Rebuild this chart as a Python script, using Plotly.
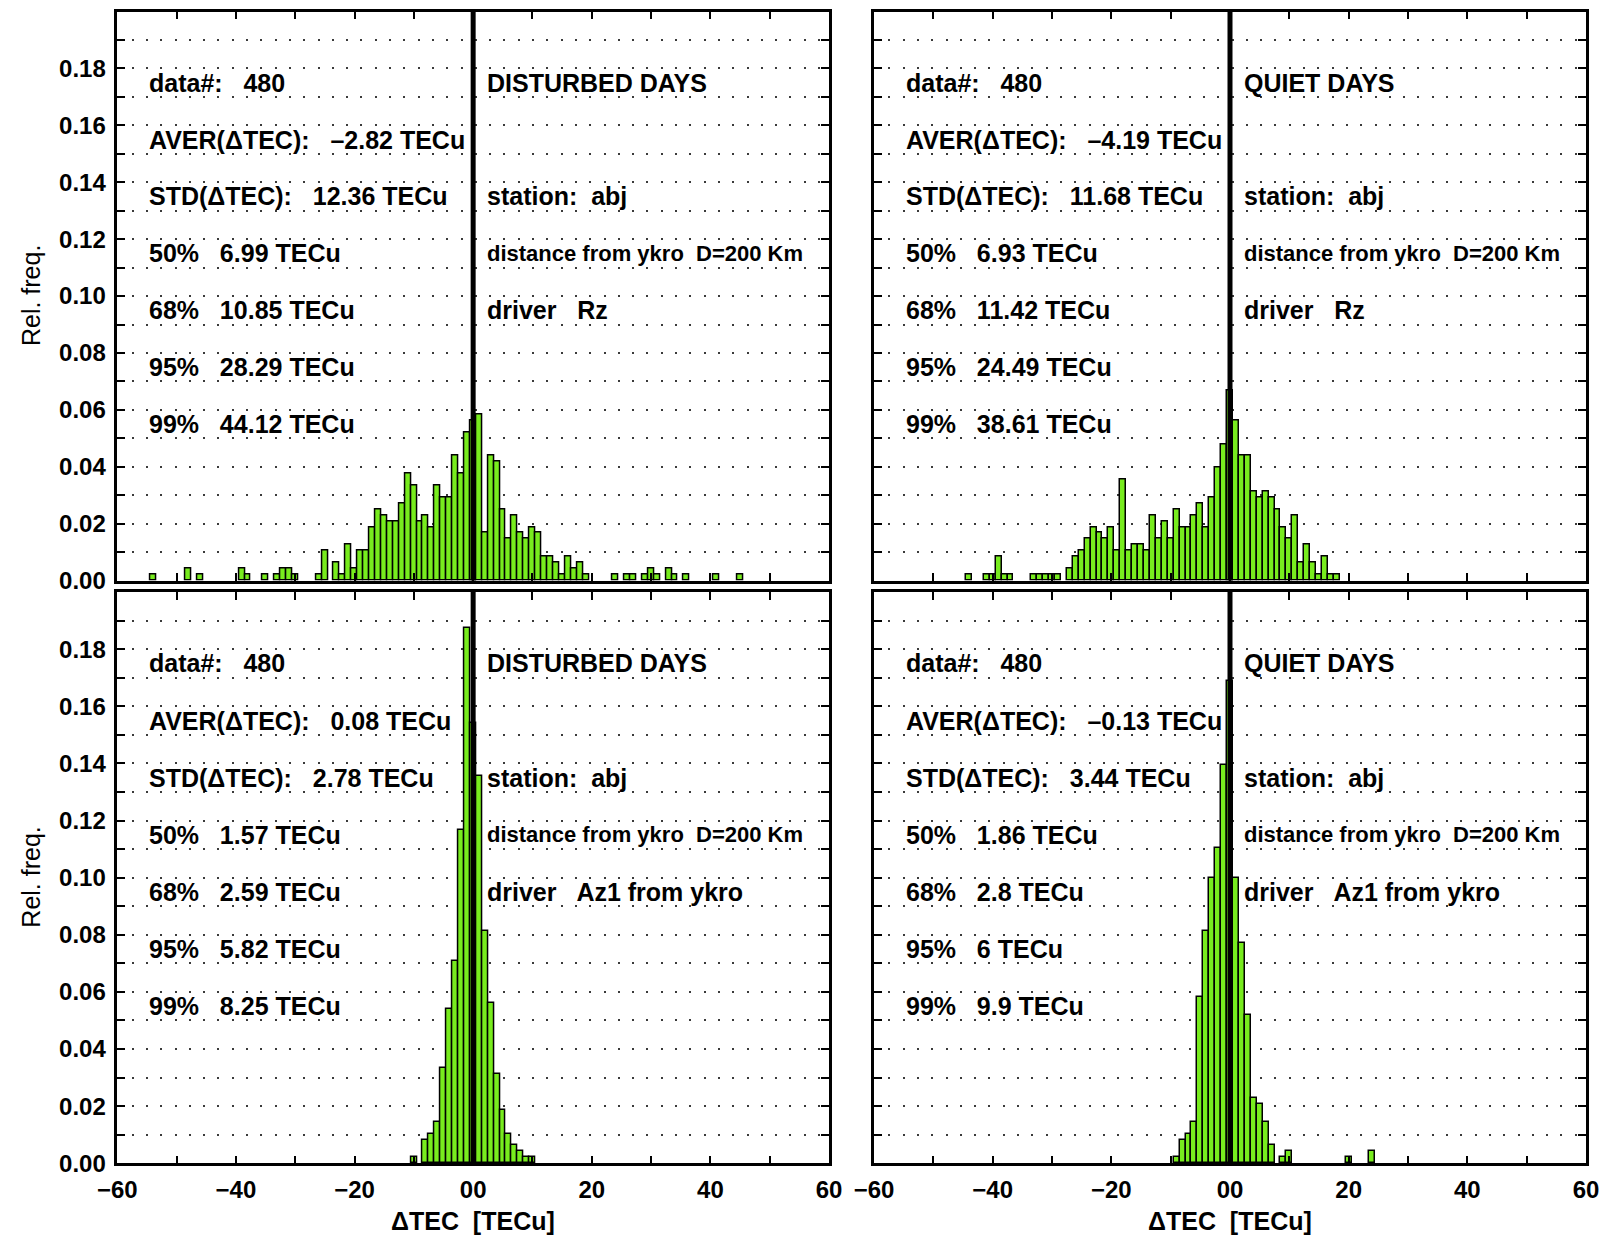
import plotly.graph_objects as go

# Number of ΔTEC samples per run (relative frequency = count / N_DATA)
N_DATA = 480

# Disturbed days, driver Rz: bin centres [TECu] and counts per 1-TECu bin
bins_dist_rz = [-54, -48, -46, -39, -38, -35, -33, -32, -31, -30,
                -26, -25, -23, -22, -21, -20, -19, -18, -17, -16, -15, -14, -13,
                -12, -11, -10, -9, -8, -7, -6, -5, -4, -3, -2, -1, 0,
                1, 2, 3, 4, 5, 6, 7, 8, 9, 10, 11, 12, 13, 14, 15, 16, 17, 18, 19,
                24, 26, 27, 29, 30, 31, 33, 34, 36, 41, 45]
counts_dist_rz = [1, 2, 1, 2, 1, 1, 1, 2, 2, 1,
                  1, 5, 3, 1, 6, 2, 5, 5, 9, 12, 11, 10, 10,
                  13, 18, 16, 10, 11, 9, 16, 14, 14, 21, 18, 25, 27,
                  28, 8, 21, 20, 12, 7, 11, 8, 7, 9, 8, 4, 4, 3, 1, 4, 2, 3, 1,
                  1, 1, 1, 1, 2, 1, 2, 1, 1, 1, 1]

# Quiet days, driver Rz
bins_quiet_rz = [-44, -41, -40, -39, -38, -37, -33, -32, -31, -30, -29,
                 -27, -26, -25, -24, -23, -22, -21, -20, -19, -18, -17, -16, -15, -14,
                 -13, -12, -11, -10, -9, -8, -7, -6, -5, -4, -3, -2, -1, 0,
                 1, 2, 3, 4, 5, 6, 7, 8, 9, 10, 11, 12, 13, 14, 15, 16, 17, 18]
counts_quiet_rz = [1, 1, 1, 4, 1, 1, 1, 1, 1, 1, 1,
                   2, 4, 5, 7, 9, 8, 7, 9, 5, 17, 5, 6, 6, 5,
                   11, 7, 10, 7, 12, 9, 9, 11, 13, 9, 14, 19, 23, 32,
                   27, 21, 21, 15, 14, 15, 14, 12, 9, 7, 11, 3, 6, 3, 1, 4, 1, 1]

# Disturbed days, driver Az1 from ykro
bins_dist_az1 = [-10, -8, -7, -6, -5, -4, -3, -2, -1, 0,
                 1, 2, 3, 4, 5, 6, 7, 8, 9, 10]
counts_dist_az1 = [1, 4, 5, 7, 16, 26, 34, 56, 90, 74,
                   65, 39, 27, 15, 9, 5, 3, 2, 1, 1]

# Quiet days, driver Az1 from ykro
bins_quiet_az1 = [-9, -8, -7, -6, -5, -4, -3, -2, -1, 0,
                  1, 2, 3, 4, 5, 6, 7, 9, 10, 20, 24]
counts_quiet_az1 = [1, 4, 5, 7, 28, 39, 48, 53, 67, 81,
                    48, 37, 25, 11, 10, 7, 3, 1, 2, 1, 2]

# Statistics printed in each panel
stats_left = {
    "dist_rz": ["data#:\u00a0\u00a0 480", "AVER(ΔTEC):\u00a0\u00a0 –2.82 TECu", "STD(ΔTEC):\u00a0\u00a0 12.36 TECu",
                "50%\u00a0\u00a0 6.99 TECu", "68%\u00a0\u00a0 10.85 TECu", "95%\u00a0\u00a0 28.29 TECu", "99%\u00a0\u00a0 44.12 TECu"],
    "quiet_rz": ["data#:\u00a0\u00a0 480", "AVER(ΔTEC):\u00a0\u00a0 –4.19 TECu", "STD(ΔTEC):\u00a0\u00a0 11.68 TECu",
                 "50%\u00a0\u00a0 6.93 TECu", "68%\u00a0\u00a0 11.42 TECu", "95%\u00a0\u00a0 24.49 TECu", "99%\u00a0\u00a0 38.61 TECu"],
    "dist_az1": ["data#:\u00a0\u00a0 480", "AVER(ΔTEC):\u00a0\u00a0 0.08 TECu", "STD(ΔTEC):\u00a0\u00a0 2.78 TECu",
                 "50%\u00a0\u00a0 1.57 TECu", "68%\u00a0\u00a0 2.59 TECu", "95%\u00a0\u00a0 5.82 TECu", "99%\u00a0\u00a0 8.25 TECu"],
    "quiet_az1": ["data#:\u00a0\u00a0 480", "AVER(ΔTEC):\u00a0\u00a0 –0.13 TECu", "STD(ΔTEC):\u00a0\u00a0 3.44 TECu",
                  "50%\u00a0\u00a0 1.86 TECu", "68%\u00a0\u00a0 2.8 TECu", "95%\u00a0\u00a0 6 TECu", "99%\u00a0\u00a0 9.9 TECu"],
}
day_type = {"dist_rz": "DISTURBED DAYS", "quiet_rz": "QUIET DAYS",
            "dist_az1": "DISTURBED DAYS", "quiet_az1": "QUIET DAYS"}
driver = {"dist_rz": "driver\u00a0\u00a0 Rz", "quiet_rz": "driver\u00a0\u00a0 Rz",
          "dist_az1": "driver\u00a0\u00a0 Az1 from ykro", "quiet_az1": "driver\u00a0\u00a0 Az1 from ykro"}
station_txt = "station:\u00a0 abj"
distance_txt = "distance from ykro\u00a0 D=200 Km"

x_ticks = list(range(-60, 61, 10))
x_ticktext = ["−60", "", "−40", "", "−20", "", "00", "", "20", "", "40", "", "60"]
y_ticks = [round(0.01 * i, 2) for i in range(20)]
y_ticktext = [f"{v:.2f}" if i % 2 == 0 else "" for i, v in enumerate(y_ticks)]

GREEN = "#78EC1E"
W, H = 1599, 1236

# Panel frames in pixels (left, right, top, bottom)
left_x = (117.3, 829.0)
right_x = (874.0, 1586.0)
top_y = (11.6, 580.5)
bot_y = (592.0, 1163.3)


def xdom(px):
    return [px[0] / W, px[1] / W]


def ydom(py):
    return [1 - py[1] / H, 1 - py[0] / H]


panels = [
    # key, bins, counts, axis suffix, x px, y px, show y labels, show x labels
    ("dist_rz", bins_dist_rz, counts_dist_rz, "", left_x, top_y, True, False),
    ("quiet_rz", bins_quiet_rz, counts_quiet_rz, "2", right_x, top_y, False, False),
    ("dist_az1", bins_dist_az1, counts_dist_az1, "3", left_x, bot_y, True, True),
    ("quiet_az1", bins_quiet_az1, counts_quiet_az1, "4", right_x, bot_y, False, True),
]

fig = go.Figure()
tick_font = dict(family="Liberation Sans", size=24, color="black", weight="bold")
txt_font = dict(family="Liberation Sans", size=25, color="black", weight="bold")
small_font = dict(family="Liberation Sans", size=22, color="black", weight="bold")
annotations = []
shapes = []

for key, bins, counts, sfx, xpx, ypx, show_y, show_x in panels:
    xa, ya = "x" + sfx, "y" + sfx
    rel = [c / N_DATA for c in counts]
    fig.add_trace(go.Bar(
        x=bins, y=rel, width=1, xaxis=xa, yaxis=ya,
        marker=dict(color=GREEN, line=dict(color="black", width=1.5)),
        showlegend=False,
    ))
    fig.layout["xaxis" + sfx] = dict(
        domain=xdom(xpx), anchor=ya, range=[-60, 60],
        tickmode="array", tickvals=x_ticks, ticktext=x_ticktext,
        showticklabels=show_x, tickfont=tick_font, ticklabelstandoff=3,
        ticklabeloverflow="allow",
        ticks="inside", ticklen=8, tickwidth=1.5, tickcolor="black",
        showline=True, linewidth=2.5, linecolor="black", mirror="ticks",
        showgrid=False, zeroline=False, automargin=False,
    )
    fig.layout["yaxis" + sfx] = dict(
        domain=ydom(ypx), anchor=xa, range=[0, 0.2],
        tickmode="array", tickvals=y_ticks, ticktext=y_ticktext,
        showticklabels=show_y, tickfont=tick_font, ticklabelstandoff=4,
        ticks="inside", ticklen=8, tickwidth=1.5, tickcolor="black",
        showline=True, linewidth=2.5, linecolor="black", mirror="ticks",
        showgrid=True, gridcolor="#3a3a3a", gridwidth=1.8, griddash="2px,12.3px",
        zeroline=False, automargin=False,
    )
    # thick reference line at ΔTEC = 0
    shapes.append(dict(type="line", xref=xa, yref=ya + " domain", x0=0, x1=0, y0=0, y1=1,
                       line=dict(color="black", width=5), layer="above"))

    rows_y = [0.175 - 0.02 * i for i in range(7)]
    for txt, yv in zip(stats_left[key], rows_y):
        annotations.append(dict(text=txt, x=-55, y=yv, xref=xa, yref=ya, xanchor="left",
                                yanchor="middle", showarrow=False, font=txt_font))
    right_col = [(day_type[key], rows_y[0], txt_font), (station_txt, rows_y[2], txt_font),
                 (distance_txt, rows_y[3], small_font), (driver[key], rows_y[4], txt_font)]
    for txt, yv, f in right_col:
        annotations.append(dict(text=txt, x=2, y=yv, xref=xa, yref=ya, xanchor="left",
                                yanchor="middle", showarrow=False, font=f))

    if show_y:
        annotations.append(dict(text="Rel. freq.", x=31 / W, y=1 - (ypx[0] + ypx[1]) / 2 / H,
                                xref="paper", yref="paper", textangle=-90, showarrow=False,
                                xanchor="center", yanchor="middle",
                                font=dict(family="Liberation Sans", size=25, color="black")))
    if show_x:
        annotations.append(dict(text="ΔTEC\u00a0\u00a0[TECu]", x=0, y=1 - 1221 / H,
                                xref=xa, yref="paper", showarrow=False,
                                xanchor="center", yanchor="middle",
                                font=dict(family="Liberation Sans", size=25, color="black",
                                          weight="bold")))

fig.update_layout(
    width=W, height=H, autosize=False,
    margin=dict(l=0, r=0, t=0, b=0, pad=0),
    paper_bgcolor="white", plot_bgcolor="white",
    barmode="overlay", bargap=0,
    annotations=annotations, shapes=shapes,
)

fig.write_html("out.html")
